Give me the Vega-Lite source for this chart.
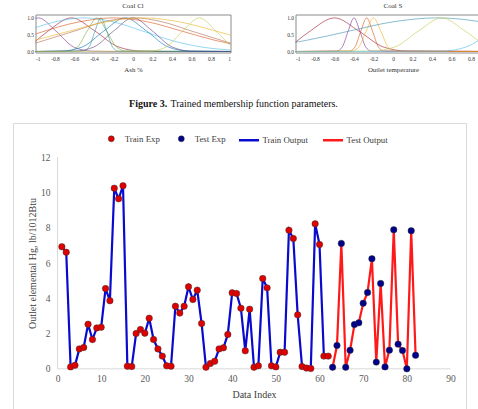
{
  "$schema": "https://vega.github.io/schema/vega-lite/v6.json",
  "background": "white",
  "padding": {"left": 12.5, "top": 0.5, "right": 0, "bottom": 0},
  "bounds": "flush",
  "spacing": 10,
  "resolve": {"scale": {"color": "independent"}, "legend": {"color": "independent"}},
  "datasets": {
    "hg": [
      {"i": 1, "hg": 6.92, "exp": "Train Exp", "out": "Train Output"}, {"i": 2, "hg": 6.61, "exp": "Train Exp", "out": "Train Output"},
      {"i": 3, "hg": 0.11, "exp": "Train Exp", "out": "Train Output"}, {"i": 4, "hg": 0.2, "exp": "Train Exp", "out": "Train Output"},
      {"i": 5, "hg": 1.13, "exp": "Train Exp", "out": "Train Output"}, {"i": 6, "hg": 1.21, "exp": "Train Exp", "out": "Train Output"},
      {"i": 7, "hg": 2.53, "exp": "Train Exp", "out": "Train Output"}, {"i": 8, "hg": 1.66, "exp": "Train Exp", "out": "Train Output"},
      {"i": 9, "hg": 2.32, "exp": "Train Exp", "out": "Train Output"}, {"i": 10, "hg": 2.36, "exp": "Train Exp", "out": "Train Output"},
      {"i": 11, "hg": 4.55, "exp": "Train Exp", "out": "Train Output"}, {"i": 12, "hg": 3.86, "exp": "Train Exp", "out": "Train Output"},
      {"i": 13, "hg": 10.24, "exp": "Train Exp", "out": "Train Output"}, {"i": 14, "hg": 9.64, "exp": "Train Exp", "out": "Train Output"},
      {"i": 15, "hg": 10.38, "exp": "Train Exp", "out": "Train Output"}, {"i": 16, "hg": 0.15, "exp": "Train Exp", "out": "Train Output"},
      {"i": 17, "hg": 0.13, "exp": "Train Exp", "out": "Train Output"}, {"i": 18, "hg": 2.0, "exp": "Train Exp", "out": "Train Output"},
      {"i": 19, "hg": 2.23, "exp": "Train Exp", "out": "Train Output"}, {"i": 20, "hg": 2.02, "exp": "Train Exp", "out": "Train Output"},
      {"i": 21, "hg": 2.87, "exp": "Train Exp", "out": "Train Output"}, {"i": 22, "hg": 1.66, "exp": "Train Exp", "out": "Train Output"},
      {"i": 23, "hg": 1.13, "exp": "Train Exp", "out": "Train Output"}, {"i": 24, "hg": 0.72, "exp": "Train Exp", "out": "Train Output"},
      {"i": 25, "hg": 0.17, "exp": "Train Exp", "out": "Train Output"}, {"i": 26, "hg": 0.15, "exp": "Train Exp", "out": "Train Output"},
      {"i": 27, "hg": 3.55, "exp": "Train Exp", "out": "Train Output"}, {"i": 28, "hg": 3.16, "exp": "Train Exp", "out": "Train Output"},
      {"i": 29, "hg": 3.55, "exp": "Train Exp", "out": "Train Output"}, {"i": 30, "hg": 4.65, "exp": "Train Exp", "out": "Train Output"},
      {"i": 31, "hg": 3.93, "exp": "Train Exp", "out": "Train Output"}, {"i": 32, "hg": 4.46, "exp": "Train Exp", "out": "Train Output"},
      {"i": 33, "hg": 2.57, "exp": "Train Exp", "out": "Train Output"}, {"i": 34, "hg": 0.09, "exp": "Train Exp", "out": "Train Output"},
      {"i": 35, "hg": 0.3, "exp": "Train Exp", "out": "Train Output"}, {"i": 36, "hg": 0.43, "exp": "Train Exp", "out": "Train Output"},
      {"i": 37, "hg": 1.13, "exp": "Train Exp", "out": "Train Output"}, {"i": 38, "hg": 1.19, "exp": "Train Exp", "out": "Train Output"},
      {"i": 39, "hg": 1.95, "exp": "Train Exp", "out": "Train Output"}, {"i": 40, "hg": 4.31, "exp": "Train Exp", "out": "Train Output"},
      {"i": 41, "hg": 4.27, "exp": "Train Exp", "out": "Train Output"}, {"i": 42, "hg": 3.44, "exp": "Train Exp", "out": "Train Output"},
      {"i": 43, "hg": 1.02, "exp": "Train Exp", "out": "Train Output"}, {"i": 44, "hg": 3.38, "exp": "Train Exp", "out": "Train Output"},
      {"i": 45, "hg": 0.09, "exp": "Train Exp", "out": "Train Output"}, {"i": 46, "hg": 0.17, "exp": "Train Exp", "out": "Train Output"},
      {"i": 47, "hg": 5.12, "exp": "Train Exp", "out": "Train Output"}, {"i": 48, "hg": 4.59, "exp": "Train Exp", "out": "Train Output"},
      {"i": 49, "hg": 0.17, "exp": "Train Exp", "out": "Train Output"}, {"i": 50, "hg": 0.11, "exp": "Train Exp", "out": "Train Output"},
      {"i": 51, "hg": 0.94, "exp": "Train Exp", "out": "Train Output"}, {"i": 52, "hg": 0.94, "exp": "Train Exp", "out": "Train Output"},
      {"i": 53, "hg": 7.86, "exp": "Train Exp", "out": "Train Output"}, {"i": 54, "hg": 7.39, "exp": "Train Exp", "out": "Train Output"},
      {"i": 55, "hg": 3.06, "exp": "Train Exp", "out": "Train Output"}, {"i": 56, "hg": 0.13, "exp": "Train Exp", "out": "Train Output"},
      {"i": 57, "hg": 0.04, "exp": "Train Exp", "out": "Train Output"}, {"i": 58, "hg": 0.02, "exp": "Train Exp", "out": "Train Output"},
      {"i": 59, "hg": 8.22, "exp": "Train Exp", "out": "Train Output"}, {"i": 60, "hg": 7.05, "exp": "Train Exp", "out": "Train Output"},
      {"i": 61, "hg": 0.72, "exp": "Train Exp", "out": "Train Output"}, {"i": 62, "hg": 0.72, "exp": "Train Exp", "out": "Train Output"},
      {"i": 63, "hg": 0.09, "exp": "Test Exp", "out": "Test Output"}, {"i": 64, "hg": 1.32, "exp": "Test Exp", "out": "Test Output"},
      {"i": 65, "hg": 7.11, "exp": "Test Exp", "out": "Test Output"}, {"i": 66, "hg": 0.09, "exp": "Test Exp", "out": "Test Output"},
      {"i": 67, "hg": 1.05, "exp": "Test Exp", "out": "Test Output"}, {"i": 68, "hg": 2.51, "exp": "Test Exp", "out": "Test Output"},
      {"i": 69, "hg": 2.61, "exp": "Test Exp", "out": "Test Output"}, {"i": 70, "hg": 3.72, "exp": "Test Exp", "out": "Test Output"},
      {"i": 71, "hg": 4.33, "exp": "Test Exp", "out": "Test Output"}, {"i": 72, "hg": 6.24, "exp": "Test Exp", "out": "Test Output"},
      {"i": 73, "hg": 0.38, "exp": "Test Exp", "out": "Test Output"}, {"i": 74, "hg": 4.84, "exp": "Test Exp", "out": "Test Output"},
      {"i": 75, "hg": 0.11, "exp": "Test Exp", "out": "Test Output"}, {"i": 76, "hg": 1.06, "exp": "Test Exp", "out": "Test Output"},
      {"i": 77, "hg": 7.88, "exp": "Test Exp", "out": "Test Output"}, {"i": 78, "hg": 1.4, "exp": "Test Exp", "out": "Test Output"},
      {"i": 79, "hg": 1.04, "exp": "Test Exp", "out": "Test Output"}, {"i": 80, "hg": 0.0, "exp": "Test Exp", "out": "Test Output"},
      {"i": 81, "hg": 7.83, "exp": "Test Exp", "out": "Test Output"}, {"i": 82, "hg": 0.77, "exp": "Test Exp", "out": "Test Output"}
    ],
    "mfCl": [
      {"mf": "a", "x": -1, "deg": 0.986}, {"mf": "a", "x": -0.97, "deg": 1}, {"mf": "a", "x": -0.79, "deg": 0.607}, {"mf": "a", "x": -0.61, "deg": 0.135}, {"mf": "a", "x": -0.43, "deg": 0.011}, {"mf": "a", "x": -0.25, "deg": 0}, {"mf": "a", "x": 1, "deg": 0},
      {"mf": "b", "x": -1, "deg": 0.305}, {"mf": "b", "x": -0.87, "deg": 0.607}, {"mf": "b", "x": -0.63, "deg": 1}, {"mf": "b", "x": -0.39, "deg": 0.607}, {"mf": "b", "x": -0.15, "deg": 0.135}, {"mf": "b", "x": 0.09, "deg": 0.011}, {"mf": "b", "x": 0.33, "deg": 0}, {"mf": "b", "x": 1, "deg": 0},
      {"mf": "c", "x": -1, "deg": 0.707}, {"mf": "c", "x": -0.8, "deg": 0.882}, {"mf": "c", "x": -0.5, "deg": 1}, {"mf": "c", "x": -0.2, "deg": 0.882}, {"mf": "c", "x": 0.1, "deg": 0.607}, {"mf": "c", "x": 0.4, "deg": 0.325}, {"mf": "c", "x": 0.7, "deg": 0.135}, {"mf": "c", "x": 1, "deg": 0.044},
      {"mf": "d", "x": -1, "deg": 0}, {"mf": "d", "x": -0.67, "deg": 0.011}, {"mf": "d", "x": -0.57, "deg": 0.135}, {"mf": "d", "x": -0.47, "deg": 0.607}, {"mf": "d", "x": -0.37, "deg": 1}, {"mf": "d", "x": -0.27, "deg": 0.607}, {"mf": "d", "x": -0.17, "deg": 0.135}, {"mf": "d", "x": -0.07, "deg": 0.011}, {"mf": "d", "x": 1, "deg": 0},
      {"mf": "e", "x": -1, "deg": 0}, {"mf": "e", "x": -0.51, "deg": 0.011}, {"mf": "e", "x": -0.45, "deg": 0.135}, {"mf": "e", "x": -0.39, "deg": 0.607}, {"mf": "e", "x": -0.33, "deg": 1}, {"mf": "e", "x": -0.27, "deg": 0.607}, {"mf": "e", "x": -0.21, "deg": 0.135}, {"mf": "e", "x": -0.15, "deg": 0.011}, {"mf": "e", "x": 1, "deg": 0},
      {"mf": "f", "x": -1, "deg": 0}, {"mf": "f", "x": -0.74, "deg": 0.011}, {"mf": "f", "x": -0.52, "deg": 0.135}, {"mf": "f", "x": -0.3, "deg": 0.607}, {"mf": "f", "x": -0.08, "deg": 1}, {"mf": "f", "x": 0.14, "deg": 0.607}, {"mf": "f", "x": 0.36, "deg": 0.135}, {"mf": "f", "x": 0.58, "deg": 0.011}, {"mf": "f", "x": 1, "deg": 0},
      {"mf": "g", "x": -1, "deg": 0}, {"mf": "g", "x": -0.6, "deg": 0.011}, {"mf": "g", "x": -0.4, "deg": 0.135}, {"mf": "g", "x": -0.2, "deg": 0.607}, {"mf": "g", "x": 0, "deg": 1}, {"mf": "g", "x": 0.2, "deg": 0.607}, {"mf": "g", "x": 0.4, "deg": 0.135}, {"mf": "g", "x": 0.6, "deg": 0.011}, {"mf": "g", "x": 1, "deg": 0},
      {"mf": "h", "x": -1, "deg": 0.52}, {"mf": "h", "x": -0.55, "deg": 0.882}, {"mf": "h", "x": -0.2, "deg": 1}, {"mf": "h", "x": 0.15, "deg": 0.882}, {"mf": "h", "x": 0.5, "deg": 0.607}, {"mf": "h", "x": 0.85, "deg": 0.325}, {"mf": "h", "x": 1, "deg": 0.23},
      {"mf": "i", "x": -1, "deg": 0.249}, {"mf": "i", "x": -0.6, "deg": 0.607}, {"mf": "i", "x": -0.3, "deg": 0.882}, {"mf": "i", "x": 0, "deg": 1}, {"mf": "i", "x": 0.3, "deg": 0.882}, {"mf": "i", "x": 0.6, "deg": 0.607}, {"mf": "i", "x": 1, "deg": 0.249},
      {"mf": "j", "x": -1, "deg": 0.341}, {"mf": "j", "x": -0.65, "deg": 0.607}, {"mf": "j", "x": -0.275, "deg": 0.882}, {"mf": "j", "x": 0.1, "deg": 1}, {"mf": "j", "x": 0.475, "deg": 0.882}, {"mf": "j", "x": 0.85, "deg": 0.607}, {"mf": "j", "x": 1, "deg": 0.487},
      {"mf": "k", "x": -1, "deg": 0}, {"mf": "k", "x": 0.17, "deg": 0.011}, {"mf": "k", "x": 0.34, "deg": 0.135}, {"mf": "k", "x": 0.51, "deg": 0.607}, {"mf": "k", "x": 0.68, "deg": 1}, {"mf": "k", "x": 0.85, "deg": 0.607}, {"mf": "k", "x": 1, "deg": 0.17}
    ],
    "mfS": [
      {"mf": "a", "x": -1, "deg": 0.278}, {"mf": "a", "x": -0.85, "deg": 0.607}, {"mf": "a", "x": -0.6, "deg": 1}, {"mf": "a", "x": -0.35, "deg": 0.607}, {"mf": "a", "x": -0.1, "deg": 0.135}, {"mf": "a", "x": 0.15, "deg": 0.011}, {"mf": "a", "x": 1, "deg": 0},
      {"mf": "b", "x": -1, "deg": 0}, {"mf": "b", "x": -0.58, "deg": 0.011}, {"mf": "b", "x": -0.52, "deg": 0.135}, {"mf": "b", "x": -0.46, "deg": 0.607}, {"mf": "b", "x": -0.4, "deg": 1}, {"mf": "b", "x": -0.34, "deg": 0.607}, {"mf": "b", "x": -0.28, "deg": 0.135}, {"mf": "b", "x": -0.22, "deg": 0.011}, {"mf": "b", "x": 1, "deg": 0},
      {"mf": "c", "x": -1, "deg": 0}, {"mf": "c", "x": -0.45, "deg": 0.011}, {"mf": "c", "x": -0.39, "deg": 0.135}, {"mf": "c", "x": -0.33, "deg": 0.607}, {"mf": "c", "x": -0.27, "deg": 1}, {"mf": "c", "x": -0.21, "deg": 0.607}, {"mf": "c", "x": -0.15, "deg": 0.135}, {"mf": "c", "x": -0.09, "deg": 0.011}, {"mf": "c", "x": 1, "deg": 0},
      {"mf": "d", "x": -1, "deg": 0}, {"mf": "d", "x": -0.425, "deg": 0.011}, {"mf": "d", "x": -0.35, "deg": 0.135}, {"mf": "d", "x": -0.275, "deg": 0.607}, {"mf": "d", "x": -0.2, "deg": 1}, {"mf": "d", "x": -0.125, "deg": 0.607}, {"mf": "d", "x": -0.05, "deg": 0.135}, {"mf": "d", "x": 0.025, "deg": 0.011}, {"mf": "d", "x": 1, "deg": 0},
      {"mf": "e", "x": -1, "deg": 0.273}, {"mf": "e", "x": -0.9, "deg": 0.325}, {"mf": "e", "x": -0.45, "deg": 0.607}, {"mf": "e", "x": 0, "deg": 0.882}, {"mf": "e", "x": 0.45, "deg": 1}, {"mf": "e", "x": 0.9, "deg": 0.882}, {"mf": "e", "x": 1, "deg": 0.83},
      {"mf": "f", "x": -1, "deg": 0}, {"mf": "f", "x": -0.22, "deg": 0.011}, {"mf": "f", "x": 0.02, "deg": 0.135}, {"mf": "f", "x": 0.26, "deg": 0.607}, {"mf": "f", "x": 0.5, "deg": 1}, {"mf": "f", "x": 0.74, "deg": 0.607}, {"mf": "f", "x": 0.98, "deg": 0.135}, {"mf": "f", "x": 1, "deg": 0.114},
      {"mf": "g", "x": -1, "deg": 0}, {"mf": "g", "x": 0.5, "deg": 0.011}, {"mf": "g", "x": 0.75, "deg": 0.135}, {"mf": "g", "x": 1, "deg": 0.607}
    ]
  },
  "vconcat": [
    {
      "bounds": "flush",
      "spacing": 65,
      "resolve": {"scale": {"color": "independent"}, "legend": {"color": "independent"}},
      "hconcat": [
        {
          "width": 195,
          "height": 38,
          "view": {"stroke": "#8c8c8c"},
          "title": {"text": "Coal Cl", "font": "Liberation Serif", "fontSize": 7, "fontWeight": "normal", "color": "#333333", "offset": 6},
          "data": {"name": "mfCl"},
          "mark": {"type": "line", "interpolate": "monotone", "strokeWidth": 0.8, "opacity": 0.75},
          "encoding": {
            "x": {
              "field": "x", "type": "quantitative",
              "scale": {"domain": [-1, 1], "nice": false, "zero": false},
              "axis": {
                "values": [-1, -0.8, -0.6, -0.4, -0.2, 0, 0.2, 0.4, 0.6, 0.8, 1],
                "labelExpr": "datum.value < 0 ? '-' + format(-datum.value, '~g') : format(datum.value, '~g')",
                "domain": false, "ticks": false, "grid": false, "labelOverlap": false,
                "labelFont": "Liberation Serif", "labelFontSize": 5.5, "labelColor": "#333333", "labelPadding": 4,
                "title": "Ash %", "titleFont": "Liberation Serif", "titleFontSize": 6.8, "titleFontWeight": "normal", "titleColor": "#333333", "titlePadding": 4
              }
            },
            "y": {
              "field": "deg", "type": "quantitative",
              "scale": {"domain": [-0.03, 1.1], "nice": false, "zero": false},
              "axis": {
                "values": [0, 0.5, 1], "domain": false, "ticks": false, "grid": false, "labelOverlap": false,
                "labelFont": "Liberation Serif", "labelFontSize": 5.5, "labelColor": "#333333", "labelPadding": 2, "title": null
              }
            },
            "color": {
              "field": "mf", "type": "nominal", "legend": null,
              "scale": {
                "domain": ["a", "b", "c", "d", "e", "f", "g", "h", "i", "j", "k"],
                "range": ["#7E2F8E", "#A2142F", "#4DBEEE", "#77AC30", "#2E9AA6", "#0072BD", "#5E3C78", "#D95319", "#B06A50", "#EDB120", "#C2C94A"]
              }
            }
          }
        },
        {
          "width": 195,
          "height": 38,
          "view": {"stroke": "#8c8c8c"},
          "title": {"text": "Coal S", "font": "Liberation Serif", "fontSize": 7, "fontWeight": "normal", "color": "#333333", "offset": 6},
          "data": {"name": "mfS"},
          "mark": {"type": "line", "interpolate": "monotone", "strokeWidth": 0.8, "opacity": 0.75},
          "encoding": {
            "x": {
              "field": "x", "type": "quantitative",
              "scale": {"domain": [-1, 1], "nice": false, "zero": false},
              "axis": {
                "values": [-1, -0.8, -0.6, -0.4, -0.2, 0, 0.2, 0.4, 0.6, 0.8, 1],
                "labelExpr": "datum.value < 0 ? '-' + format(-datum.value, '~g') : format(datum.value, '~g')",
                "domain": false, "ticks": false, "grid": false, "labelOverlap": false,
                "labelFont": "Liberation Serif", "labelFontSize": 5.5, "labelColor": "#333333", "labelPadding": 4,
                "title": "Outlet temperature", "titleFont": "Liberation Serif", "titleFontSize": 6.8, "titleFontWeight": "normal", "titleColor": "#333333", "titlePadding": 4
              }
            },
            "y": {
              "field": "deg", "type": "quantitative",
              "scale": {"domain": [-0.03, 1.1], "nice": false, "zero": false},
              "axis": {
                "values": [0, 0.5, 1], "domain": false, "ticks": false, "grid": false, "labelOverlap": false,
                "labelFont": "Liberation Serif", "labelFontSize": 5.5, "labelColor": "#333333", "labelPadding": 2, "title": null
              }
            },
            "color": {
              "field": "mf", "type": "nominal", "legend": null,
              "scale": {
                "domain": ["a", "b", "c", "d", "e", "f", "g"],
                "range": ["#A2142F", "#7E2F8E", "#D95319", "#EDB120", "#3C8FB0", "#C2C94A", "#4DBEEE"]
              }
            }
          }
        }
      ]
    },
    {
      "width": 431,
      "height": 89,
      "view": {"stroke": null},
      "layer": [
        {
          "data": {"values": [{"caption": "Figure 3."}]},
          "mark": {"type": "text", "align": "right", "baseline": "middle", "font": "Liberation Serif", "fontSize": 10, "fontWeight": "bold", "color": "#111111"},
          "encoding": {
            "text": {"field": "caption"},
            "x": {"datum": 0.3056, "scale": {"domain": [0, 1]}, "axis": null},
            "y": {"datum": 0.112, "scale": {"domain": [0, 1]}, "axis": null}
          }
        },
        {
          "data": {"values": [{"caption": "Trained membership function parameters."}]},
          "mark": {"type": "text", "align": "left", "baseline": "middle", "font": "Liberation Serif", "fontSize": 10, "fontWeight": "normal", "color": "#111111"},
          "encoding": {
            "text": {"field": "caption"},
            "x": {"datum": 0.3132},
            "y": {"datum": 0.112}
          }
        }
      ]
    },
    {
      "width": 431,
      "height": 288,
      "view": {"stroke": null},
      "resolve": {"legend": {"color": "independent", "stroke": "independent"}},
      "layer": [
        {
          "data": {"values": [{"part": "box"}]},
          "mark": {"type": "rect", "filled": false, "color": "#d9d9d9", "strokeWidth": 1},
          "encoding": {"x": {"datum": -10.08}, "x2": {"datum": 93.66}, "y": {"datum": 13.91}, "y2": {"datum": -2.42}}
        },
        {
          "data": {"values": [{"part": "x baseline"}]},
          "mark": {"type": "rule", "color": "#d9d9d9", "strokeWidth": 1},
          "encoding": {"x": {"datum": 0}, "x2": {"datum": 90}, "y": {"datum": 0}}
        },
        {
          "data": {"values": [{"part": "y baseline"}]},
          "mark": {"type": "rule", "color": "#d9d9d9", "strokeWidth": 1},
          "encoding": {"x": {"datum": 0}, "y": {"datum": 0}, "y2": {"datum": 12}}
        },
        {
          "data": {"name": "hg"},
          "mark": {"type": "line", "strokeWidth": 2.2},
          "encoding": {
            "x": {
              "field": "i", "type": "quantitative",
              "scale": {"domain": [-5.038, 93.66], "nice": false, "zero": false},
              "axis": {
                "values": [0, 10, 20, 30, 40, 50, 60, 70, 80, 90],
                "domain": false, "ticks": false, "grid": false, "offset": -42.7, "labelOverlap": false,
                "labelFont": "Liberation Serif", "labelFontSize": 9.5, "labelColor": "#595959", "labelPadding": 5,
                "title": "Data Index", "titleFont": "Liberation Serif", "titleFontSize": 10, "titleFontWeight": "normal", "titleColor": "#404040",
                "titleX": 218.5, "titleY": 25.2, "titleBaseline": "middle", "titleAlign": "center"
              }
            },
            "y": {
              "field": "hg", "type": "quantitative",
              "scale": {"domain": [-2.42, 13.91], "nice": false, "zero": false},
              "axis": {
                "values": [0, 2, 4, 6, 8, 10, 12],
                "domain": false, "ticks": false, "grid": false, "offset": -22, "labelOverlap": false,
                "labelFont": "Liberation Serif", "labelFontSize": 9.5, "labelColor": "#595959", "labelPadding": 7.5,
                "title": "Outlet elemental Hg, lb/1012Btu", "titleFont": "Liberation Serif", "titleFontSize": 10, "titleFontWeight": "normal", "titleColor": "#404040",
                "titleX": -25, "titleY": 139.5, "titleAngle": -90, "titleBaseline": "middle", "titleAlign": "center"
              }
            },
            "stroke": {
              "field": "out", "type": "nominal",
              "scale": {"domain": ["Train Output", "Test Output"], "range": ["#0a0acd", "#ff1a1a"]},
              "legend": {
                "orient": "none", "legendX": 202, "legendY": 5, "direction": "horizontal", "title": null,
                "labelFont": "Liberation Serif", "labelFontSize": 8.8, "labelColor": "#404040",
                "symbolType": "stroke", "symbolSize": 400, "symbolStrokeWidth": 2.5,
                "labelOffset": 2, "columnPadding": 9, "padding": 0
              }
            }
          }
        },
        {
          "data": {"name": "hg"},
          "mark": {"type": "circle", "size": 42, "opacity": 1, "strokeWidth": 0.6, "stroke": "#333333", "strokeOpacity": 0.8},
          "encoding": {
            "x": {"field": "i", "type": "quantitative"},
            "y": {"field": "hg", "type": "quantitative"},
            "color": {
              "field": "exp", "type": "nominal",
              "scale": {"domain": ["Train Exp", "Test Exp"], "range": ["#e00000", "#00008b"]},
              "legend": {
                "orient": "none", "legendX": 71.4, "legendY": 10.5, "direction": "horizontal", "title": null,
                "labelFont": "Liberation Serif", "labelFontSize": 8.8, "labelColor": "#404040",
                "symbolType": "circle", "symbolSize": 36, "symbolOpacity": 1,
                "symbolStrokeColor": "#333333", "symbolStrokeWidth": 0.5,
                "labelOffset": 9, "columnPadding": 17, "padding": 0
              }
            }
          }
        }
      ]
    }
  ]
}
